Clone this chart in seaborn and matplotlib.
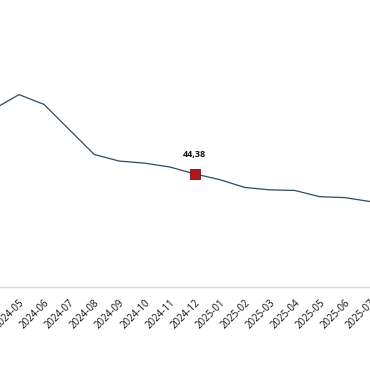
import matplotlib
matplotlib.use("Agg")
import matplotlib.pyplot as plt
import matplotlib.transforms as mtransforms
import pandas as pd
import seaborn as sns

# yıllık TÜFE (%), 2024-04 .. 2025-07
months = ["2024-04", "2024-05", "2024-06", "2024-07", "2024-08", "2024-09",
          "2024-10", "2024-11", "2024-12", "2025-01", "2025-02", "2025-03",
          "2025-04", "2025-05", "2025-06", "2025-07"]
values = [69.80, 75.45, 71.60, 61.78, 51.97, 49.38, 48.58, 47.09, 44.38,
          42.12, 39.05, 38.10, 37.86, 35.41, 35.05, 33.52]
highlight_month = "2024-12"
highlight_label = "44,38"

sns.set_theme(style="white")
plt.rcParams["font.family"] = ["Open Sans", "DejaVu Sans"]

df = pd.DataFrame({"month": months, "value": values})
df["idx"] = range(len(df))

fig = plt.figure(figsize=(3.7, 3.8), dpi=100)
ax = fig.add_axes([0, (380 - 287) / 380, 1, 287 / 380])

sns.lineplot(data=df, x="idx", y="value", ax=ax, color="#2f4b5c", linewidth=0.9)

hi = df[df["month"] == highlight_month]
sns.scatterplot(data=hi, x="idx", y="value", ax=ax, marker="s", s=46,
                color="#b3161f", edgecolor="#7a0d12", linewidth=0.6, zorder=5)
ax.annotate(highlight_label, (hi["idx"].iloc[0], hi["value"].iloc[0]),
            xytext=(0, 14), textcoords="offset points", ha="center",
            va="center", fontsize=6.5, fontweight="bold", color="#111111")

ax.set_xticks(df["idx"])
ax.set_xticklabels(df["month"], rotation=45, ha="right",
                   rotation_mode="anchor", fontsize=7, color="#111111")
# etiketleri biraz sağa kaydır
shift = mtransforms.ScaledTranslation(0.05, 0, fig.dpi_scale_trans)
for lbl in ax.get_xticklabels():
    lbl.set_transform(lbl.get_transform() + shift)
# tick'ler görünüm aralığını genişletiyor, sınırları sonra ver
ax.set_xlim(6.07 / 25.07, 15.0)
ax.set_ylim(0, 287 / 2.55)
ax.tick_params(axis="x", length=0, pad=7.5)
ax.set_yticks([])
ax.set_xlabel("")
ax.set_ylabel("")
for side in ["top", "left", "right"]:
    ax.spines[side].set_visible(False)
ax.spines["bottom"].set_color("#d9d9d9")
ax.spines["bottom"].set_linewidth(1.0)

fig.savefig("out.png", dpi=100)
